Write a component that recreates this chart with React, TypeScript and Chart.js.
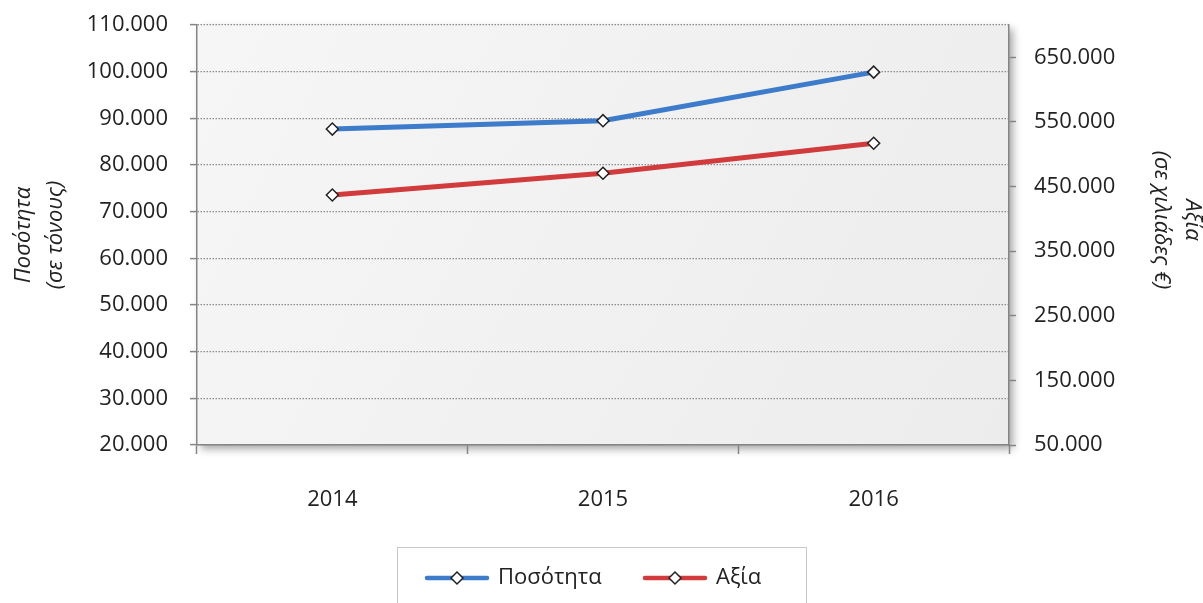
import React, { useEffect, useRef } from "react";
import { Chart, registerables } from "chart.js";

Chart.register(...registerables);

const categories = ["2014", "2015", "2016"];
const quantitySeries = [87700, 89500, 99900];
const valueSeries = [437000, 470500, 517000];
const leftTickValues = [20000, 30000, 40000, 50000, 60000, 70000, 80000, 90000, 100000, 110000];
const rightTickValues = [50000, 150000, 250000, 350000, 450000, 550000, 650000];
const seriesNames = ["Ποσότητα", "Αξία"];
const leftTitle = ["Ποσότητα", "(σε τόνους)"];
const rightTitle = ["Αξία", "(σε χιλιάδες €)"];

const FONT = "'Open Sans', 'Noto Sans', sans-serif";
const BLUE = "#3d7bcb";
const RED = "#d23b3b";
const AXIS = "#858585";

const fmt = (v: number) => String(Math.round(v)).replace(/\B(?=(\d{3})+(?!\d))/g, ".");

const backgroundPlugin = {
  id: "plotBg",
  beforeDraw(chart: any) {
    const { ctx, chartArea } = chart;
    const { left, top, right, bottom } = chartArea;
    ctx.save();
    ctx.shadowColor = "rgba(0,0,0,0.35)";
    ctx.shadowBlur = 8;
    ctx.shadowOffsetX = 4;
    ctx.shadowOffsetY = 4;
    const g = ctx.createLinearGradient(left, top, right, bottom);
    g.addColorStop(0, "#f6f6f6");
    g.addColorStop(1, "#ececec");
    ctx.fillStyle = g;
    ctx.fillRect(left, top, right - left, bottom - top);
    ctx.restore();
  },
};

const drawMarker = (ctx: CanvasRenderingContext2D, x: number, y: number) => {
  const r = 6;
  ctx.beginPath();
  ctx.moveTo(x, y - r);
  ctx.lineTo(x + r, y);
  ctx.lineTo(x, y + r);
  ctx.lineTo(x - r, y);
  ctx.closePath();
  ctx.fillStyle = "#ffffff";
  ctx.fill();
  ctx.lineWidth = 1.5;
  ctx.strokeStyle = "#222";
  ctx.stroke();
};

const overlayPlugin = {
  id: "overlay",
  afterDraw(chart: any) {
    const { ctx } = chart;
    ctx.save();
    ctx.fillStyle = "#222";
    ctx.font = `italic 22px ${FONT}`;
    ctx.textAlign = "center";
    ctx.textBaseline = "middle";
    const leftX = [24, 56];
    leftTitle.forEach((t, i) => {
      ctx.save();
      ctx.translate(leftX[i], 235);
      ctx.rotate(-Math.PI / 2);
      ctx.fillText(t, 0, 0);
      ctx.restore();
    });
    const rightX = [1192, 1161];
    rightTitle.forEach((t, i) => {
      ctx.save();
      ctx.translate(rightX[i], 220);
      ctx.rotate(Math.PI / 2);
      ctx.fillText(t, 0, 0);
      ctx.restore();
    });

    ctx.strokeStyle = "#c8c8c8";
    ctx.lineWidth = 1;
    ctx.strokeRect(397.5, 547.5, 409, 70);
    const items = [
      { x: 427, color: BLUE, label: seriesNames[0] },
      { x: 645, color: RED, label: seriesNames[1] },
    ];
    const ly = 578;
    items.forEach((it) => {
      ctx.beginPath();
      ctx.moveTo(it.x, ly);
      ctx.lineTo(it.x + 60, ly);
      ctx.lineCap = "round";
      ctx.lineWidth = 4.5;
      ctx.strokeStyle = it.color;
      ctx.stroke();
      drawMarker(ctx, it.x + 30, ly);
      ctx.fillStyle = "#222";
      ctx.font = `22px ${FONT}`;
      ctx.textAlign = "left";
      ctx.textBaseline = "middle";
      ctx.fillText(it.label, it.x + 71, ly);
    });
    ctx.restore();
  },
};

export default function App() {
  const canvasRef = useRef<HTMLCanvasElement | null>(null);

  useEffect(() => {
    document.body.style.margin = "0";
    const canvas = canvasRef.current;
    if (!canvas) return;
    const tickFont = { family: FONT, size: 22 };
    const fixPad = (s: any) => {
      s.paddingTop = 12;
      s.paddingBottom = 12;
    };
    const chart = new Chart(canvas, {
      type: "line",
      data: {
        labels: categories,
        datasets: [
          {
            label: seriesNames[0],
            data: quantitySeries,
            yAxisID: "y",
            borderColor: BLUE,
            borderWidth: 5,
            pointStyle: "rectRot",
            pointRadius: 6,
            pointBackgroundColor: "#ffffff",
            pointBorderColor: "#222",
            pointBorderWidth: 1.5,
            tension: 0,
          },
          {
            label: seriesNames[1],
            data: valueSeries,
            yAxisID: "y1",
            borderColor: RED,
            borderWidth: 5,
            pointStyle: "rectRot",
            pointRadius: 6,
            pointBackgroundColor: "#ffffff",
            pointBorderColor: "#222",
            pointBorderWidth: 1.5,
            tension: 0,
          },
        ],
      },
      options: {
        animation: false,
        responsive: true,
        maintainAspectRatio: false,
        layout: { padding: { top: 25, left: 0, right: 0, bottom: 0 } },
        plugins: { legend: { display: false }, tooltip: { enabled: false } },
        scales: {
          x: {
            type: "category",
            offset: true,
            grid: {
              offset: true,
              drawOnChartArea: false,
              drawTicks: true,
              tickLength: 9,
              tickColor: AXIS,
              tickWidth: 1.5,
            },
            border: { display: true, color: AXIS, width: 1.5 },
            ticks: { font: tickFont, color: "#222", padding: 33 },
            afterFit: (s: any) => {
              s.height = 158;
            },
          },
          y: {
            type: "linear",
            position: "left",
            min: leftTickValues[0],
            max: leftTickValues[leftTickValues.length - 1],
            afterBuildTicks: (s: any) => {
              s.ticks = leftTickValues.map((v) => ({ value: v }));
            },
            grid: {
              color: "#8c8c8c",
              lineWidth: 1.2,
              tickLength: 7,
              tickColor: AXIS,
              tickWidth: 1.5,
              tickBorderDash: [],
            },
            border: { display: true, color: AXIS, width: 1.5, dash: [1.5, 1.5] },
            ticks: { font: tickFont, color: "#222", padding: 22, callback: (v: any) => fmt(Number(v)) },
            afterFit: (s: any) => {
              s.width = 197;
              fixPad(s);
            },
          },
          y1: {
            type: "linear",
            position: "right",
            min: 50000,
            max: 700000,
            afterBuildTicks: (s: any) => {
              s.ticks = rightTickValues.map((v) => ({ value: v }));
            },
            grid: {
              drawOnChartArea: false,
              tickLength: 7,
              tickColor: AXIS,
              tickWidth: 1.5,
            },
            border: { display: true, color: AXIS, width: 1.5 },
            ticks: { font: tickFont, color: "#222", padding: 18, callback: (v: any) => fmt(Number(v)) },
            afterFit: (s: any) => {
              s.width = 194;
              fixPad(s);
            },
          },
        },
      },
      plugins: [backgroundPlugin, overlayPlugin],
    } as any);
    return () => chart.destroy();
  }, []);

  return (
    <div style={{ position: "absolute", left: 0, top: 0, width: 1203, height: 603, background: "#fff" }}>
      <canvas ref={canvasRef} />
    </div>
  );
}
